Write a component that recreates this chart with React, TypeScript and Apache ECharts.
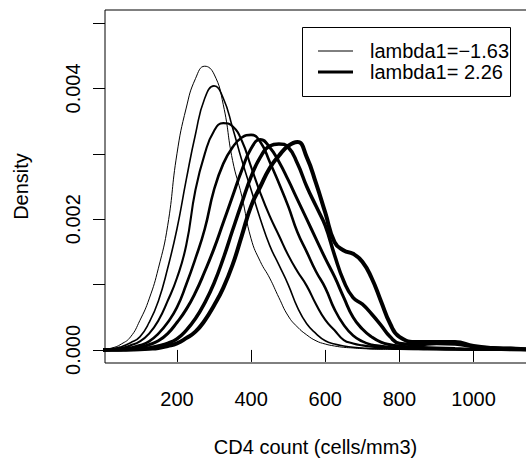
import React, { useEffect, useRef } from "react";
import * as echarts from "echarts";

// CD4 count grid (cells/mm3)
const cd4Grid = [
  0, 25, 50, 75, 100, 125, 150, 175, 200, 225, 250, 275, 300, 325, 350, 375, 400,
  425, 450, 475, 500, 525, 550, 575, 600, 625, 650, 675, 700, 725, 750, 775, 800,
  850, 900, 950, 1000, 1050, 1100, 1150,
];

// densities, in units of 0.001
const dens1 = [0.01, 0.03, 0.09, 0.2, 0.45, 0.78, 1.25, 1.9, 3.0, 3.7, 4.15, 4.34, 4.22, 3.75, 2.9, 2.35, 1.7, 1.35, 1.1, 0.8, 0.52, 0.35, 0.23, 0.14, 0.09, 0.06, 0.04, 0.03, 0.02, 0.015, 0.01, 0.01, 0.01, 0.005, 0.005, 0.003, 0.002, 0.001, 0.001, 0];
const dens2 = [0.005, 0.015, 0.05, 0.11, 0.2, 0.42, 0.75, 1.25, 1.85, 2.6, 3.3, 3.85, 4.04, 3.85, 3.4, 2.9, 2.45, 2.0, 1.6, 1.3, 1.0, 0.65, 0.4, 0.25, 0.14, 0.09, 0.06, 0.04, 0.03, 0.02, 0.02, 0.015, 0.01, 0.008, 0.006, 0.004, 0.003, 0.002, 0.001, 0];
const dens3 = [0.003, 0.01, 0.03, 0.07, 0.13, 0.25, 0.45, 0.75, 1.1, 1.6, 2.45, 3.0, 3.35, 3.47, 3.42, 3.2, 2.8, 2.4, 2.05, 1.75, 1.45, 1.2, 0.98, 0.7, 0.46, 0.3, 0.15, 0.1, 0.07, 0.05, 0.04, 0.03, 0.02, 0.015, 0.012, 0.008, 0.005, 0.003, 0.002, 0.001];
const dens4 = [0.002, 0.005, 0.015, 0.035, 0.07, 0.13, 0.25, 0.42, 0.65, 1.0, 1.4, 1.85, 2.45, 2.85, 3.1, 3.25, 3.29, 3.18, 2.88, 2.55, 2.2, 1.8, 1.5, 1.2, 0.95, 0.62, 0.38, 0.22, 0.13, 0.08, 0.06, 0.04, 0.03, 0.02, 0.015, 0.01, 0.007, 0.004, 0.002, 0.001];
const dens5 = [0.001, 0.003, 0.008, 0.02, 0.04, 0.08, 0.14, 0.25, 0.42, 0.62, 0.88, 1.2, 1.55, 1.95, 2.35, 2.75, 3.08, 3.22, 3.1, 2.88, 2.6, 2.3, 2.0, 1.7, 1.4, 1.12, 0.8, 0.5, 0.32, 0.2, 0.12, 0.08, 0.06, 0.04, 0.03, 0.02, 0.012, 0.007, 0.004, 0.002];
const dens6 = [0.001, 0.002, 0.004, 0.008, 0.015, 0.03, 0.06, 0.1, 0.17, 0.3, 0.48, 0.72, 1.02, 1.4, 1.83, 2.25, 2.65, 2.95, 3.12, 3.15, 3.1, 2.85, 2.5, 2.2, 1.9, 1.45, 1.05, 0.8, 0.7, 0.55, 0.38, 0.2, 0.1, 0.08, 0.1, 0.09, 0.05, 0.03, 0.02, 0.01];
const dens7 = [0, 0.001, 0.003, 0.006, 0.01, 0.018, 0.03, 0.06, 0.1, 0.18, 0.28, 0.45, 0.68, 0.95, 1.3, 1.75, 2.2, 2.5, 2.78, 2.97, 3.12, 3.18, 2.95, 2.55, 2.1, 1.65, 1.52, 1.47, 1.35, 1.1, 0.75, 0.4, 0.2, 0.12, 0.12, 0.12, 0.06, 0.03, 0.02, 0.01];

const allDens = [dens1, dens2, dens3, dens4, dens5, dens6, dens7];
const lineWidths = [1, 1.6, 2.1, 2.6, 3, 3.5, 4];

const xTicks = [200, 400, 600, 800, 1000];
const yTicks = [0, 1, 2, 3, 4, 5];
const yLabelTicks = [0, 2, 4];
const legendLabels = ["lambda1=\u22121.63", "lambda1= 2.26"];
const legendWidths = [1, 3];

const FONT = "'Liberation Sans', Arial, Helvetica, sans-serif";
const FS = 20;

export default function App() {
  const ref = useRef<HTMLDivElement>(null);
  useEffect(() => {
    const chart = echarts.init(ref.current!, null, { renderer: "svg" });
    chart.setOption({
      animation: false,
      backgroundColor: "#ffffff",
      grid: {
        left: 105,
        top: 10,
        right: -1,
        bottom: 99,
        show: true,
        borderColor: "#000",
        borderWidth: 1,
        containLabel: false,
        outerBoundsMode: "none",
      },
      xAxis: {
        type: "value",
        min: 6,
        max: 1144,
        axisLine: { show: false },
        splitLine: { show: false },
        axisTick: { show: true, length: 12, customValues: xTicks, lineStyle: { color: "#000", width: 1 } },
        axisLabel: {
          customValues: xTicks,
          margin: 26,
          fontSize: FS,
          color: "#000",
          fontFamily: FONT,
          formatter: (v: number) => String(v),
        },
      },
      yAxis: {
        type: "value",
        min: -0.2,
        max: 5.2,
        axisLine: { show: false },
        splitLine: { show: false },
        axisTick: { show: true, length: 12, customValues: yTicks, lineStyle: { color: "#000", width: 1 } },
        axisLabel: {
          customValues: yLabelTicks,
          rotate: 90,
          margin: 22,
          fontSize: FS,
          color: "#000",
          fontFamily: FONT,
          formatter: (v: number) => (v / 1000).toFixed(3),
        },
      },
      series: allDens.map((d, i) => ({
        type: "line",
        data: cd4Grid.map((x, j) => [x, d[j]]),
        showSymbol: false,
        symbol: "none",
        smooth: 0.5,
        clip: true,
        lineStyle: { color: "#000", width: lineWidths[i] },
        z: 2 + i,
      })),
      graphic: [
        {
          type: "text",
          x: 21,
          y: 186.5,
          rotation: Math.PI / 2,
          style: { text: "Density", align: "center", verticalAlign: "middle", fontSize: FS, fontFamily: FONT, fill: "#000" },
        },
        {
          type: "text",
          x: 315.5,
          y: 447,
          style: { text: "CD4 count (cells/mm3)", align: "center", verticalAlign: "middle", fontSize: FS, fontFamily: FONT, fill: "#000" },
        },
        {
          type: "rect",
          shape: { x: 302.5, y: 27.5, width: 208, height: 69 },
          style: { fill: "#fff", stroke: "#000", lineWidth: 1 },
          z: 100,
        },
        ...legendLabels.flatMap((lab, i) => [
          {
            type: "line",
            shape: { x1: 318, y1: 51 + i * 21, x2: 353, y2: 51 + i * 21 },
            style: { stroke: "#000", lineWidth: legendWidths[i] },
            z: 101,
          },
          {
            type: "text",
            x: 370,
            y: 51 + i * 21,
            style: { text: lab, align: "left", verticalAlign: "middle", fontSize: FS, fontFamily: FONT, fill: "#000" },
            z: 101,
          },
        ]),
      ],
    });
    return () => chart.dispose();
  }, []);
  return <div ref={ref} style={{ position: "fixed", left: 0, top: 0, width: 526, height: 462 }} />;
}
